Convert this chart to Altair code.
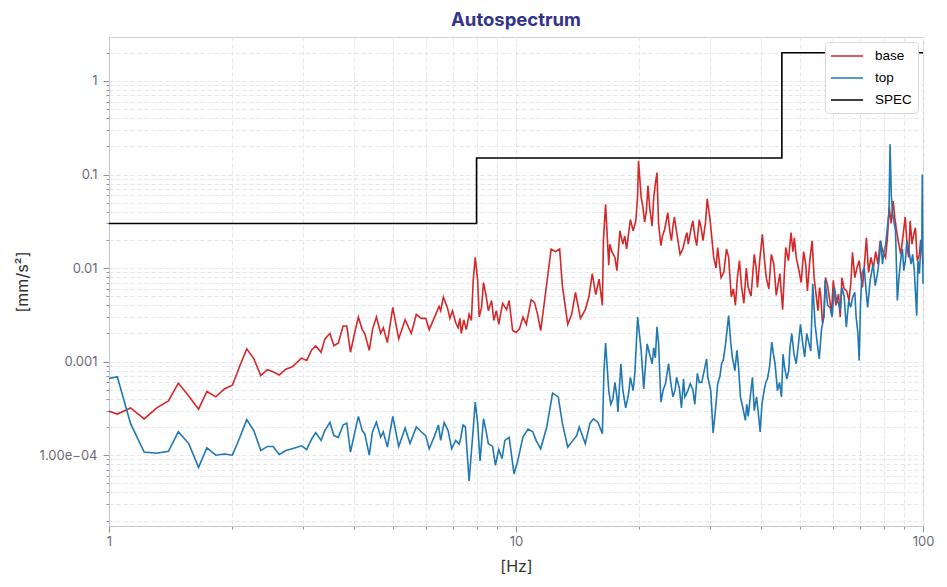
import altair as alt
import pandas as pd

# ---- data ----
base_f = [1.0, 1.048, 1.13, 1.22, 1.31, 1.40, 1.48, 1.57, 1.66, 1.74, 1.83, 1.92, 2.01, 2.09, 2.18, 2.27,
          2.36, 2.45, 2.53, 2.62, 2.72, 2.82, 2.97, 3.06, 3.15, 3.22, 3.32, 3.39, 3.49, 3.57, 3.66, 3.76,
          3.84, 3.92, 4.01, 4.10, 4.19, 4.25, 4.36, 4.44, 4.54, 4.65, 4.72, 4.83, 4.98, 5.15, 5.34, 5.53,
          5.69, 5.85, 6.00, 6.12, 6.29, 6.47, 6.53, 6.63, 6.78, 6.88, 6.98, 7.11, 7.21, 7.28, 7.34, 7.44,
          7.55, 7.67, 7.77, 7.85, 7.94, 8.05, 8.12, 8.23, 8.32, 8.44, 8.55, 8.71, 8.82, 8.95, 9.07, 9.27,
          9.48, 9.62, 9.81, 10.0, 10.2, 10.4, 10.6, 10.9, 11.1, 11.3, 11.5, 11.9, 12.2, 12.5, 12.8, 13.0,
          13.4, 13.7, 14.0, 14.4, 14.8, 15.1, 15.4, 15.7, 16.0, 16.3, 16.6, 16.9, 17.2, 17.5, 17.7, 18.0,
          18.3, 18.7, 19.1, 19.4, 19.7, 20.0, 20.3, 20.7, 21.1, 21.6, 21.8, 22.2, 22.7, 23.2, 23.6, 24.1,
          24.5, 25.3, 26.0, 26.5, 27.2, 27.8, 28.2, 28.8, 29.5, 30.0, 30.6, 31.3, 31.9, 32.9, 33.8, 34.6,
          35.4, 36.3, 37.2, 38.5, 39.2, 40.3, 41.2, 42.4, 43.6, 44.5, 45.2, 46.0, 47.4, 48.3, 49.4, 50.9,
          52.0, 53.4, 54.7, 55.7, 56.6, 57.6, 59.0, 60.2, 62.0, 63.2, 64.9, 67.1, 68.0, 69.7, 71.0, 72.6,
          74.5, 76.5, 78.5, 80.9, 82.6, 84.5, 85.9, 88.2, 90.4, 91.5, 93.0, 94.9, 95.8, 98.0, 99.3, 100.0]
base_v = [2.95e-4, 2.75e-4, 3.2e-4, 2.44e-4, 3.2e-4, 3.8e-4, 5.9e-4, 4.3e-4, 3.1e-4, 4.8e-4, 4.2e-4, 5.1e-4,
          5.6e-4, 8.7e-4, 1.37e-3, 1.07e-3, 7.1e-4, 8.2e-4, 7.8e-4, 7.2e-4, 8.3e-4, 8.8e-4, 1.09e-3, 1.03e-3,
          1.34e-3, 1.47e-3, 1.26e-3, 1.74e-3, 2.0e-3, 1.48e-3, 1.58e-3, 2.4e-3, 2.4e-3, 1.26e-3, 2.0e-3, 3.0e-3,
          2.2e-3, 2.0e-3, 1.32e-3, 2.2e-3, 3.0e-3, 2.0e-3, 2.3e-3, 1.6e-3, 3.8e-3, 1.75e-3, 2.8e-3, 2.0e-3,
          3.2e-3, 2.9e-3, 2.9e-3, 2.2e-3, 2.9e-3, 3.9e-3, 3.5e-3, 4.9e-3, 3.8e-3, 2.9e-3, 3.5e-3, 2.6e-3,
          2.3e-3, 2.9e-3, 2.0e-3, 2.8e-3, 2.2e-3, 3.2e-3, 2.75e-3, 7.4e-3, 1.3e-2, 7.4e-3, 3.0e-3, 3.8e-3,
          7.0e-3, 5.1e-3, 3.5e-3, 4.5e-3, 2.75e-3, 3.5e-3, 2.5e-3, 4.2e-3, 3.6e-3, 4.5e-3, 2.15e-3, 2.05e-3,
          2.24e-3, 3.0e-3, 2.5e-3, 4.6e-3, 4.3e-3, 3.2e-3, 2.15e-3, 6.8e-3, 1.6e-2, 1.5e-2, 1.6e-2, 6.5e-3,
          2.5e-3, 3.2e-3, 5.5e-3, 2.9e-3, 3.6e-3, 4.9e-3, 8.7e-3, 5.2e-3, 7.6e-3, 4.0e-3, 4.8e-2, 1.07e-2,
          1.5e-2, 1.3e-2, 9.4e-3, 2.5e-2, 1.8e-2, 1.6e-2, 3.3e-2, 2.5e-2, 3.2e-2, 1.4e-1, 5.7e-2, 3.1e-2,
          7.6e-2, 2.8e-2, 5.7e-2, 1.05e-1, 1.74e-2, 2.6e-2, 3.9e-2, 1.96e-2, 3.5e-2, 1.4e-2, 2.0e-2, 1.8e-2,
          3.2e-2, 1.74e-2, 3.3e-2, 1.96e-2, 5.5e-2, 3.2e-2, 1.3e-2, 1.66e-2, 7.9e-3, 1.6e-2, 4.9e-3, 4.0e-3,
          1.2e-2, 4.2e-3, 6.2e-3, 1.4e-2, 6.2e-3, 2.3e-2, 7.9e-3, 1.4e-2, 5.1e-3, 8.7e-3, 3.6e-3, 1.66e-2,
          2.4e-2, 2.1e-2, 1.02e-2, 1.5e-2, 5.7e-3, 1.96e-2, 4.9e-3, 6.2e-3, 2.6e-3, 7.9e-3, 4.5e-3, 7.4e-3,
          5.3e-3, 7.9e-3, 5.7e-3, 1.47e-2, 7.9e-3, 1.2e-2, 6.2e-3, 2.1e-2, 1.3e-2, 1.5e-2, 1.96e-2, 1.3e-2,
          4.5e-2, 5.2e-2, 2.7e-2, 1.4e-2, 3.5e-2, 1.66e-2, 3.2e-2, 2.3e-2, 2.7e-2, 1.4e-2, 1.66e-2, 1.1e-2]
# further readings inside the dense band above 16 Hz
base_f2 = [16.4, 17.0, 18.5, 19.9, 20.5, 20.9, 21.3, 22.0, 22.4, 22.9, 23.4, 23.9, 24.3, 24.9, 25.7, 26.3,
           26.9, 27.5, 28.0, 28.5, 29.2, 29.8, 31.0, 32.4, 33.3, 34.2, 35.0, 35.8, 36.8, 37.8, 38.9, 39.7,
           40.8, 41.8, 43.0, 44.0, 45.6, 46.7, 47.9, 48.8, 50.2, 51.5, 52.7, 54.0, 55.2, 56.1, 57.1, 58.3,
           59.6, 61.1, 62.6, 64.0, 65.8, 66.5, 68.8, 70.3, 71.8, 73.5, 75.5, 77.5, 79.7, 81.7, 83.5, 85.2,
           87.0, 89.3, 92.2, 94.0, 96.8, 98.7]
base_v2 = [2.0e-2, 1.8e-2, 2.2e-2, 6.0e-2, 4.5e-2, 4.0e-2, 4.5e-2, 8.0e-2, 3.0e-2, 2.2e-2, 3.2e-2, 2.4e-2,
           2.8e-2, 2.2e-2, 1.6e-2, 2.4e-2, 2.6e-2, 2.2e-2, 2.4e-2, 2.7e-2, 3.0e-2, 4.0e-2, 1.0e-2, 9.0e-3,
           1.3e-2, 6.0e-3, 8.0e-3, 6.5e-3, 1.0e-2, 5.0e-3, 1.0e-2, 1.2e-2, 1.2e-2, 6.0e-3, 1.1e-2, 6.5e-3,
           8.0e-3, 1.2e-2, 1.5e-2, 1.3e-2, 7.0e-3, 1.1e-2, 1.2e-2, 8.0e-3, 3.5e-3, 5.0e-3, 3.2e-3, 6.5e-3,
           3.3e-3, 4.0e-3, 3.0e-3, 6.0e-3, 4.5e-3, 7.0e-3, 1.0e-2, 8.5e-3, 1.1e-2, 9.0e-3, 1.0e-2, 1.1e-2,
           1.5e-2, 2.0e-2, 3.0e-2, 3.5e-2, 1.9e-2, 2.2e-2, 1.3e-2, 1.8e-2, 1.2e-2, 2.0e-2]

top_f = [1.0, 1.048, 1.13, 1.22, 1.31, 1.40, 1.48, 1.57, 1.66, 1.74, 1.83, 1.92, 2.01, 2.09, 2.18, 2.27,
         2.36, 2.45, 2.53, 2.62, 2.72, 2.82, 2.97, 3.06, 3.15, 3.22, 3.32, 3.39, 3.49, 3.57, 3.66, 3.76,
         3.84, 3.92, 4.01, 4.10, 4.19, 4.25, 4.36, 4.44, 4.54, 4.65, 4.72, 4.83, 4.98, 5.15, 5.34, 5.49,
         5.69, 5.85, 6.00, 6.12, 6.29, 6.45, 6.53, 6.66, 6.81, 6.95, 7.11, 7.25, 7.31, 7.41, 7.51, 7.67,
         7.85, 7.94, 8.05, 8.16, 8.32, 8.44, 8.55, 8.76, 8.90, 9.07, 9.24, 9.39, 9.62, 9.89, 10.1, 10.4,
         10.7, 11.0, 11.2, 11.5, 11.9, 12.3, 12.7, 13.0, 13.4, 13.8, 14.1, 14.3, 14.8, 15.2, 15.5, 15.9,
         16.3, 16.6, 16.9, 17.3, 17.7, 17.8, 18.1, 18.6, 19.1, 19.4, 19.6, 19.9, 20.3, 20.6, 21.0, 21.6,
         21.8, 22.2, 22.7, 23.3, 23.7, 24.3, 24.8, 25.5, 26.0, 26.8, 27.5, 28.2, 29.4, 29.6, 30.1, 30.5,
         31.3, 32.0, 32.3, 33.3, 34.0, 34.9, 35.6, 36.6, 37.2, 38.1, 39.0, 39.8, 40.7, 41.5, 42.5, 43.3,
         43.9, 44.9, 45.7, 46.8, 47.6, 48.8, 50.0, 51.2, 52.5, 53.6, 55.0, 55.6, 57.1, 57.5, 59.1, 60.6,
         62.0, 63.2, 64.8, 65.7, 67.2, 68.5, 69.7, 70.8, 71.7, 73.1, 75.4, 77.3, 78.8, 80.2, 81.9, 83.0,
         84.2, 85.6, 86.5, 88.3, 89.7, 91.3, 93.5, 95.2, 96.5, 98.0, 98.9, 99.6, 100.0]
top_v = [6.6e-4, 6.9e-4, 2.17e-4, 1.08e-4, 1.05e-4, 1.1e-4, 1.78e-4, 1.33e-4, 7.4e-5, 1.2e-4, 1.0e-4, 1.03e-4,
         1.0e-4, 1.5e-4, 2.4e-4, 1.82e-4, 1.12e-4, 1.24e-4, 1.24e-4, 1.02e-4, 1.12e-4, 1.17e-4, 1.26e-4, 1.15e-4,
         1.5e-4, 1.74e-4, 1.44e-4, 1.83e-4, 2.24e-4, 1.62e-4, 1.55e-4, 2.1e-4, 2.2e-4, 1.08e-4, 1.7e-4, 2.6e-4,
         1.83e-4, 1.7e-4, 1.0e-4, 1.78e-4, 2.25e-4, 1.56e-4, 1.78e-4, 1.22e-4, 2.6e-4, 1.24e-4, 1.95e-4, 1.33e-4,
         2.0e-4, 1.78e-4, 1.62e-4, 1.17e-4, 1.56e-4, 2.1e-4, 1.44e-4, 2.24e-4, 1.83e-4, 1.17e-4, 1.44e-4, 1.31e-4,
         1.5e-4, 2.1e-4, 2.0e-4, 5.3e-5, 1.9e-4, 3.7e-4, 2.2e-4, 8.7e-5, 2.45e-4, 1.83e-4, 1.33e-4, 1.24e-4,
         7.8e-5, 1.15e-4, 9.2e-5, 1.44e-4, 1.55e-4, 6.3e-5, 8.7e-5, 1.56e-4, 1.9e-4, 1.78e-4, 1.44e-4, 1.17e-4,
         2.0e-4, 4.6e-4, 4.2e-4, 2.2e-4, 1.22e-4, 1.44e-4, 1.62e-4, 2.0e-4, 1.33e-4, 2.2e-4, 2.45e-4, 2.24e-4,
         1.7e-4, 1.58e-3, 4.9e-4, 4.0e-4, 4.2e-4, 2.9e-4, 9.5e-4, 3.2e-4, 6.8e-4, 4.9e-4, 7.8e-4, 3.0e-3,
         1.32e-3, 5.1e-4, 1.55e-3, 9.5e-4, 1.4e-3, 2.35e-3, 3.7e-4, 5.8e-4, 9.5e-4, 4.2e-4, 6.8e-4, 3.2e-4,
         4.2e-4, 5.8e-4, 3.5e-4, 6.0e-4, 1.07e-3, 6.8e-4, 4.9e-4, 1.73e-4, 5.8e-4, 9.5e-4, 1.03e-3, 3.1e-3,
         1.12e-3, 1.32e-3, 4.2e-4, 2.35e-4, 2.6e-4, 6.8e-4, 4.2e-4, 1.77e-4, 4.9e-4, 6.6e-4, 1.62e-3, 9.5e-4,
         4.9e-4, 4.2e-4, 8.7e-4, 8.1e-4, 2.0e-3, 9.5e-4, 2.5e-3, 1.12e-3, 1.55e-3, 6.8e-3, 1.55e-3, 1.07e-3,
         3.0e-3, 7.4e-3, 3.8e-3, 6.2e-3, 4.2e-3, 6.2e-3, 2.34e-3, 4.5e-3, 4.9e-3, 3.0e-3, 1.03e-3, 8.7e-3,
         1.02e-2, 3.8e-3, 1.1e-2, 8.7e-3, 1.96e-2, 1.5e-2, 2.95e-2, 2.1e-1, 3.8e-2, 2.5e-2, 4.5e-3, 1.3e-2,
         9.4e-3, 1.96e-2, 1.1e-2, 9.4e-3, 3.1e-3, 8.7e-3, 1.96e-2, 1.0e-1, 6.8e-3]
top_f2 = [16.45, 17.1, 17.5, 18.3, 18.9, 20.1, 20.8, 21.3, 22.0, 22.4, 23.0, 24.0, 24.6, 25.2, 25.8, 26.4,
          27.2, 27.9, 28.6, 29.0, 30.9, 31.7, 32.7, 33.7, 34.5, 35.2, 36.1, 36.9, 37.7, 38.5, 39.4, 40.2,
          41.1, 42.0, 42.9, 44.4, 45.3, 46.3, 47.1, 48.2, 49.4, 50.6, 51.8, 53.0, 54.3, 56.3, 58.3, 59.8,
          61.3, 62.6, 64.0, 66.4, 68.0, 69.2, 70.2, 72.4, 74.2, 76.3, 78.0, 79.5, 81.0, 82.5, 83.6, 87.3,
          89.0, 90.5, 92.4, 94.3, 97.2, 99.3]
top_v2 = [8.0e-4, 3.5e-4, 6.0e-4, 5.0e-4, 4.5e-4, 2.0e-3, 9.0e-4, 1.2e-3, 1.1e-3, 1.6e-3, 5.0e-4, 6.0e-4,
          5.0e-4, 5.2e-4, 6.5e-4, 4.8e-4, 5.0e-4, 7.5e-4, 6.0e-4, 8.0e-4, 3.0e-4, 7.0e-4, 1.5e-3, 1.6e-3,
          8.0e-4, 9.0e-4, 3.2e-4, 3.5e-4, 4.5e-4, 3.0e-4, 2.8e-4, 3.5e-4, 6.0e-4, 9.0e-4, 1.2e-3, 6.0e-4,
          1.2e-3, 6.5e-4, 1.4e-3, 1.2e-3, 1.5e-3, 1.6e-3, 2.0e-3, 1.3e-3, 2.5e-3, 2.2e-3, 4.0e-3, 3.0e-3,
          4.5e-3, 3.5e-3, 5.0e-3, 3.8e-3, 5.5e-3, 2.0e-3, 4.0e-3, 6.0e-3, 7.5e-3, 6.5e-3, 1.2e-2, 1.1e-2,
          1.8e-2, 4.0e-2, 6.0e-2, 8.0e-3, 1.6e-2, 1.2e-2, 1.5e-2, 1.4e-2, 1.2e-2, 1.5e-2]

spec_f = [1, 8, 45, 100]
spec_v = [0.03, 0.15, 2, 2]

series_names = ["base", "top", "SPEC"]
series_colors = ["#d62728", "#1f77b4", "#000000"]
series_widths = [1.6, 1.6, 3.0]

x_major = [1, 10, 100]
x_major_labels = ["1", "10", "100"]
y_major = [1e-4, 1e-3, 1e-2, 1e-1, 1]
y_major_labels = ["1.00e\u221204", "0.001", "0.01", "0.1", "1"]

x_ticks = [k * 10 ** e for e in range(0, 2) for k in range(1, 10)] + [100]
y_ticks = [k * 10.0 ** e for e in range(-5, 0) for k in range(2 if e == -5 else 1, 10)] + [1, 2]

df = pd.concat([
    pd.DataFrame({"f": base_f + base_f2, "v": base_v + base_v2, "series": "base"}),
    pd.DataFrame({"f": top_f + top_f2, "v": top_v + top_v2, "series": "top"}),
    pd.DataFrame({"f": spec_f, "v": spec_v, "series": "SPEC"}),
], ignore_index=True).sort_values(["series", "f"]).reset_index(drop=True)


def label_expr(vals, labels):
    parts = [f"abs(datum.value - {v}) < {v} * 1e-6 ? '{l}'" for v, l in zip(vals, labels)]
    return " : ".join(parts) + " : ''"


major_test = "abs(log(datum.value) / LN10 - round(log(datum.value) / LN10)) < 1e-6"
FONT = "Inter"

x_enc = alt.X("f:Q", title="[Hz]",
              scale=alt.Scale(type="log", domain=[1, 100], nice=False),
              axis=alt.Axis(values=x_ticks, labelExpr=label_expr(x_major, x_major_labels),
                            tickSize={"condition": {"test": major_test, "value": 6}, "value": 3},
                            labelPadding=3, labelFlush=False, labelOverlap=False))
y_enc = alt.Y("v:Q", title="[mm/s²]",
              scale=alt.Scale(type="log", domain=[1.75e-5, 2.95], nice=False),
              axis=alt.Axis(values=y_ticks, labelExpr=label_expr(y_major, y_major_labels),
                            tickSize={"condition": {"test": major_test, "value": 6}, "value": 3},
                            labelPadding=6, labelOverlap=False, labelFlush=False))

legend_cfg = dict(title=None, orient="top-right", offset=5,
                  fillColor="white", strokeColor="#d9d9d9", cornerRadius=4,
                  padding=6, symbolType="M-2.3,0H2.3", symbolSize=196, symbolOffset=8,
                  labelFont="Liberation Sans", labelFontSize=13.5,
                  labelColor="#000000", rowPadding=7, labelOffset=20)
color_enc = alt.Color("series:N",
                      scale=alt.Scale(domain=series_names, range=series_colors),
                      legend=alt.Legend(**legend_cfg))
width_enc = alt.StrokeWidth("series:N",
                            scale=alt.Scale(domain=series_names, range=series_widths),
                            legend=alt.Legend(**legend_cfg))

base = alt.Chart(df)
layer_base = base.transform_filter("datum.series == 'base'").mark_line().encode(
    x=x_enc, y=y_enc, color=color_enc, strokeWidth=width_enc)
layer_top = base.transform_filter("datum.series == 'top'").mark_line().encode(
    x=x_enc, y=y_enc, color=color_enc, strokeWidth=width_enc)
layer_spec = base.transform_filter("datum.series == 'SPEC'").mark_line(interpolate="step-after").encode(
    x=x_enc, y=y_enc, color=color_enc, strokeWidth=width_enc)

chart = alt.layer(layer_base, layer_top, layer_spec).properties(
    width=814, height=489,
    title=alt.TitleParams("Autospectrum", font=FONT, fontSize=18.5, fontWeight="bold",
                          color="#33338a", offset=8),
    padding={"left": 6, "top": 2, "right": 4, "bottom": 0},
).configure_view(
    stroke="#d0d0dc", strokeWidth=1
).configure_axis(
    labelFont=FONT, labelFontSize=13, labelColor="#6b6b78",
    titleFont=FONT, titleFontSize=16, titleFontWeight="normal", titleColor="#333333",
    domainColor="#c3c3d3", tickColor="#8f8fa3",
    grid=True, gridColor="#e4e4ec", gridDash=[4, 3], gridWidth=1,
).configure_axisY(
    titlePadding=9
).configure_axisX(
    titlePadding=10
)

chart.save("out.html", embed_options={"renderer": "svg", "actions": False})
